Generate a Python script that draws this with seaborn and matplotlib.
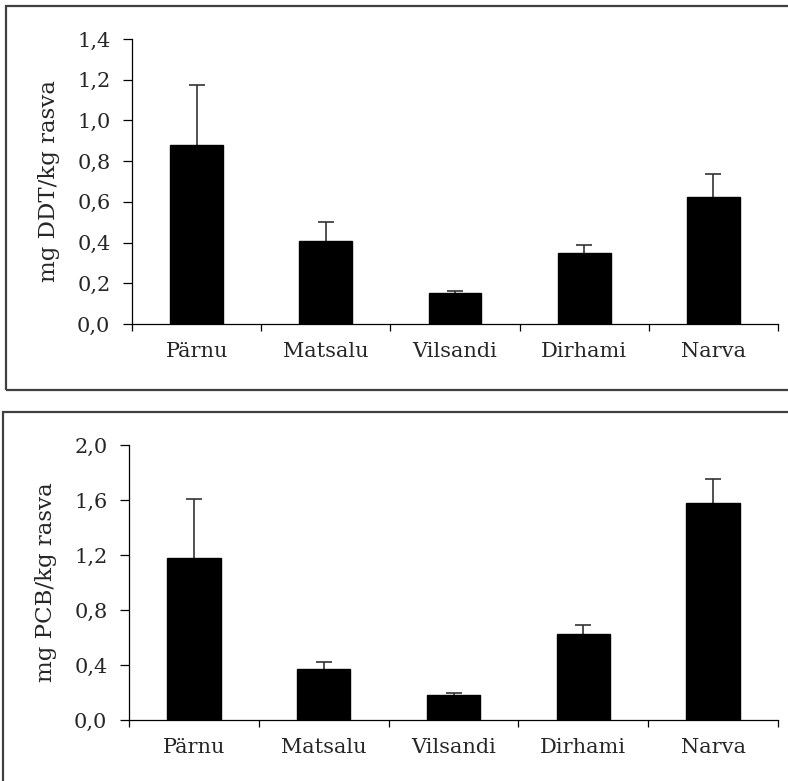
import matplotlib
matplotlib.use("Agg")
import matplotlib.pyplot as plt
from matplotlib.patches import Rectangle
from matplotlib.ticker import FuncFormatter, FixedLocator
import numpy as np
import pandas as pd
import seaborn as sns

sites = ['Pärnu', 'Matsalu', 'Vilsandi', 'Dirhami', 'Narva']
ddt_mean = [0.88, 0.41, 0.15, 0.35, 0.625]
ddt_err = [0.295, 0.09, 0.01, 0.04, 0.11]
pcb_mean = [1.18, 0.37, 0.18, 0.625, 1.58]
pcb_err = [0.43, 0.055, 0.02, 0.065, 0.17]

sns.set_style('white')
plt.rcParams['font.family'] = ['DejaVu Serif']

W, H = 788, 781
fig = plt.figure(figsize=(W / 100, H / 100), dpi=100)


def px_axes(left, right, top, bottom):
    return fig.add_axes([left / W, 1 - bottom / H, (right - left) / W, (bottom - top) / H])


def comma(v, pos):
    return ('%.1f' % v).replace('.', ',')


def panel(ax, means, errs, ymax, step, ylabel):
    table = pd.DataFrame({'site': sites, 'value': means})
    x = np.arange(len(sites))
    # upper error bar only, sitting behind the bar
    _, caps, _ = ax.errorbar(x, means, yerr=[np.zeros(len(errs)), errs], fmt='none',
                             ecolor='#333333', elinewidth=1.2, capsize=6, capthick=1.2,
                             zorder=1)
    caps[0].set_visible(False)
    sns.barplot(data=table, x='site', y='value', color='black', width=0.41,
                saturation=1, edgecolor='black', errorbar=None, ax=ax, zorder=2)
    ax.set_xlim(-0.5, len(sites) - 0.5)
    ax.set_ylim(0, ymax)
    ax.set_yticks(np.arange(0, ymax + step / 2, step))
    ax.yaxis.set_major_formatter(FuncFormatter(comma))
    # ticks at category boundaries, labels in the middle
    ax.xaxis.set_major_locator(FixedLocator(np.arange(-0.5, len(sites), 1.0)))
    ax.xaxis.set_major_formatter(FuncFormatter(lambda v, p: ''))
    ax.set_xticks(x, sites, minor=True)
    ax.tick_params(axis='x', which='major', direction='out', length=5, width=0.9,
                   color='black', bottom=True)
    ax.tick_params(axis='x', which='minor', length=0, pad=13, labelsize=15)
    ax.tick_params(axis='y', direction='out', length=6.5, width=0.9, color='black',
                   left=True, pad=9, labelsize=15)
    for s in ['top', 'right']:
        ax.spines[s].set_visible(False)
    for s in ['left', 'bottom']:
        ax.spines[s].set_color('black')
        ax.spines[s].set_linewidth(0.9)
    ax.set_xlabel('')
    ax.set_ylabel(ylabel, fontsize=16.5, labelpad=12)


ax1 = px_axes(132, 778, 39, 324)
panel(ax1, ddt_mean, ddt_err, 1.4, 0.2, 'mg DDT/kg rasva')

ax2 = px_axes(129, 778, 445, 720)
panel(ax2, pcb_mean, pcb_err, 2.0, 0.4, 'mg PCB/kg rasva')

# frames around each chart
fig.patches.append(Rectangle((6 / W, 1 - 390 / H), 900 / W, 384 / H, transform=fig.transFigure,
                             fill=False, edgecolor='#404040', linewidth=1.6))
fig.patches.append(Rectangle((3 / W, -0.1), 900 / W, 1 - 412 / H + 0.1, transform=fig.transFigure,
                             fill=False, edgecolor='#404040', linewidth=1.6))

fig.savefig('out.png', dpi=100, facecolor='white')
